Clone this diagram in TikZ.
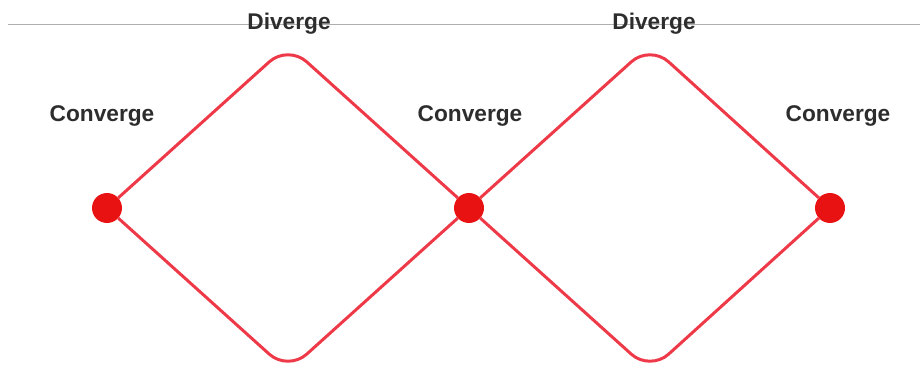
\documentclass[tikz,border=0pt]{standalone}
\usepackage{fontspec}
\setmainfont{Liberation Sans}
\definecolor{linered}{RGB}{238,58,72}
\definecolor{dotred}{RGB}{232,18,18}
\definecolor{txtgray}{RGB}{45,45,45}
\definecolor{rulegray}{RGB}{175,175,175}
\begin{document}
\begin{tikzpicture}[x=1pt,y=-1pt,
  dot/.style={circle,fill=dotred,minimum size=30pt,inner sep=0pt},
  lbl/.style={font=\fontsize{22.7}{26}\selectfont\bfseries,text=txtgray,inner sep=0pt,anchor=base},
  wire/.style={draw=linered,line width=3pt,rounded corners=25pt}]
\useasboundingbox (0,0) rectangle (920,374);
\coordinate (rs) at (8,24);
\coordinate (re) at (920,24);
\draw[rulegray,line width=0.8pt] (rs) -- (re);
% apex coordinates
\coordinate (t1) at (288,45);
\coordinate (b1) at (288,371);
\coordinate (t2) at (650,45);
\coordinate (b2) at (650,371);
\node[dot] (d1) at (107,208) {};
\node[dot] (d2) at (469,208) {};
\node[dot] (d3) at (830,208) {};
\path[wire] (d1) -- (t1) -- (d2);
\path[wire] (d1) -- (b1) -- (d2);
\path[wire] (d2) -- (t2) -- (d3);
\path[wire] (d2) -- (b2) -- (d3);
\node[lbl] (lc1) at (102,122) {Converge};
\node[lbl] (lc2) at (470,122) {Converge};
\node[lbl] (lc3) at (838,122) {Converge};
\node[lbl] (ld1) at (289,30) {Diverge};
\node[lbl] (ld2) at (654,30) {Diverge};
\end{tikzpicture}
\end{document}
